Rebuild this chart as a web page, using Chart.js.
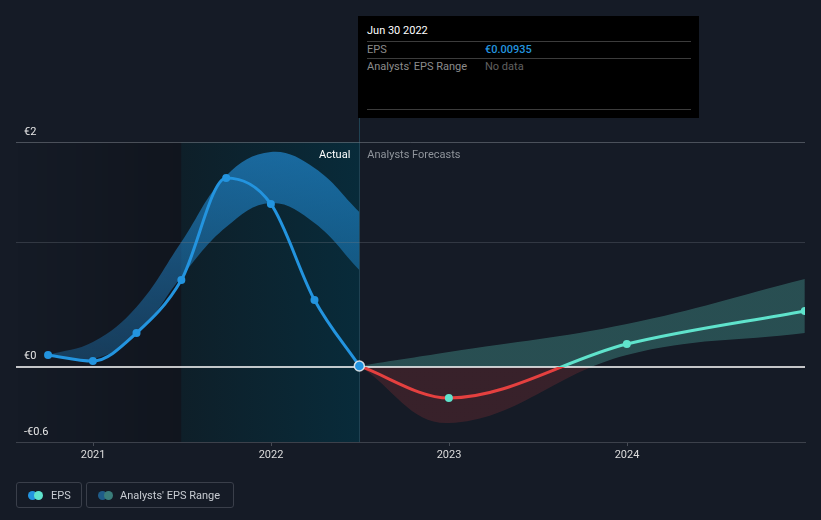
<!DOCTYPE html>
<html>
<head>
<meta charset="utf-8">
<script src="https://cdn.jsdelivr.net/npm/chart.js@4"></script>
<style>
  html,body{margin:0;padding:0;}
  body{width:821px;height:520px;overflow:hidden;position:relative;background:#151b26;font-family:Roboto,"Noto Sans",sans-serif;}
  #c{position:absolute;left:0;top:0;}
  .tip{position:absolute;left:358px;top:16px;width:341px;height:102px;background:#000;font-size:11px;}
  .tip .t{position:absolute;left:9px;top:8px;color:#fff;}
  .tip .hr{position:absolute;left:9px;width:324px;height:1px;background:#3c3c3c;}
  .tip .k{position:absolute;left:9px;color:#8c8c8c;}
  .tip .v{position:absolute;left:127px;}
  .lg{position:absolute;top:482px;height:26px;border:1px solid #3a3f4a;border-radius:3px;box-sizing:border-box;font-size:11px;color:#c8ccd2;}
  .lg .d{position:absolute;top:8px;width:9px;height:9px;border-radius:50%;}
  .lg .s{position:absolute;top:6px;}
</style>
</head>
<body>
<canvas id="c" width="821" height="520"></canvas>
<div class="tip">
  <div class="t">Jun 30 2022</div>
  <div class="hr" style="top:25px"></div>
  <div class="k" style="top:27px">EPS</div>
  <div class="v" style="top:27px;color:#2394df;font-weight:500">€0.00935</div>
  <div class="hr" style="top:42px"></div>
  <div class="k" style="top:44px">Analysts' EPS Range</div>
  <div class="v" style="top:44px;color:#606060">No data</div>
  <div class="hr" style="top:93px"></div>
</div>
<div class="lg" style="left:16px;width:66px;">
  <div class="d" style="left:11px;background:#2394df"></div>
  <div class="d" style="left:17px;background:#5fe3cc"></div>
  <div class="s" style="left:34px">EPS</div>
</div>
<div class="lg" style="left:86px;width:148px;">
  <div class="d" style="left:11px;background:#1f5c88"></div>
  <div class="d" style="left:17px;background:#3a7d7a"></div>
  <div class="s" style="left:33px">Analysts' EPS Range</div>
</div>
<script>
// ---- data (x = decimal year) ----
const pastDates    = [2020.747, 2020.999, 2021.244, 2021.496, 2021.748, 2021.999, 2022.244, 2022.496];
const pastEps      = [0.107, 0.053, 0.302, 0.773, 1.68, 1.449, 0.596, 0.00935];
const pastHigh     = [0.107, 0.222, 0.533, 1.111, 1.70, 1.911, 1.769, 1.378];
const pastLow      = [0.107, 0.071, 0.284, 0.800, 1.244, 1.458, 1.280, 0.862];
const forecastDates= [2022.496, 2022.999, 2023.999, 2024.999];
const forecastEps  = [0.00935, -0.276, 0.204, 0.498];
const forecastHigh = [0.00935, 0.133, 0.382, 0.782];
const forecastLow  = [0.00935, -0.498, 0.107, 0.302];
const xTicks = [2021, 2022, 2023, 2024];
const yLabels = [{v:2, t:'€2'}, {v:0, t:'€0'}, {v:-0.6667, t:'-€0.6'}];
const gridValues = [2, 1.111];
const actualStart = 2021.496;
const dividerX = 2022.496;
const X_MIN = 2020.567, X_MAX = 2025.0, Y_MIN = -0.6667, Y_MAX = 2.0;

const pts = (xs, ys) => xs.map((x, i) => ({x, y: ys[i]}));

const BLUE = '#2394df', TEAL = '#5fe3cc', RED = '#e5403f';

function zeroSplit(ctx, above, below) {
  const chart = ctx.chart; const ca = chart.chartArea;
  if (!ca) return above;
  const z = chart.scales.y.getPixelForValue(0);
  const s = Math.min(1, Math.max(0, (z - ca.top) / (ca.bottom - ca.top)));
  const g = chart.ctx.createLinearGradient(0, ca.top, 0, ca.bottom);
  g.addColorStop(0, above); g.addColorStop(s, above);
  g.addColorStop(s, below); g.addColorStop(1, below);
  return g;
}
function pastBandFill(ctx) {
  const chart = ctx.chart; const ca = chart.chartArea;
  if (!ca) return 'rgba(35,150,230,0.45)';
  const z = chart.scales.y.getPixelForValue(0);
  const g = chart.ctx.createLinearGradient(0, ca.top, 0, z);
  g.addColorStop(0, 'rgba(35,150,230,0.62)');
  g.addColorStop(1, 'rgba(35,150,230,0.28)');
  return g;
}

let gridDone = false;
const deco = {
  id: 'deco',
  beforeDatasetsDraw(chart) {
    const {ctx, chartArea: {left, right, top, bottom}, scales: {x, y}} = chart;
    const xa = x.getPixelForValue(actualStart), xb = x.getPixelForValue(dividerX);
    ctx.save();
    let g = ctx.createLinearGradient(left, 0, xa, 0);
    g.addColorStop(0, 'rgba(0,0,0,0)'); g.addColorStop(1, 'rgba(0,0,0,0.2)');
    ctx.fillStyle = g; ctx.fillRect(left, top, xa - left, bottom - top);
    g = ctx.createLinearGradient(xa, 0, xb, 0);
    g.addColorStop(0, 'rgb(14,31,41)'); g.addColorStop(1, 'rgb(8,43,58)');
    ctx.fillStyle = g; ctx.fillRect(xa, top, xb - xa, bottom - top);
    ctx.strokeStyle = 'rgb(32,66,82)'; ctx.lineWidth = 1;
    ctx.beginPath(); ctx.moveTo(Math.round(xb) + 0.5, 117); ctx.lineTo(Math.round(xb) + 0.5, bottom); ctx.stroke();
    ctx.restore();
    gridDone = false;
  },
  beforeDatasetDraw(chart, args) {
    if (gridDone || args.meta.order !== 0) return;
    gridDone = true;
    const {ctx, chartArea: {left, right}, scales: {y}} = chart;
    ctx.save();
    gridValues.forEach((v, i) => {
      const p = Math.round(y.getPixelForValue(v)) + 0.5;
      ctx.strokeStyle = i === 0 ? 'rgba(120,125,135,0.55)' : 'rgba(120,125,135,0.3)';
      ctx.lineWidth = 1;
      ctx.beginPath(); ctx.moveTo(left, p); ctx.lineTo(right, p); ctx.stroke();
    });
    const z = y.getPixelForValue(0);
    ctx.strokeStyle = '#ffffff'; ctx.lineWidth = 1.5;
    ctx.beginPath(); ctx.moveTo(left, z); ctx.lineTo(right, z); ctx.stroke();
    ctx.restore();
  },
  afterDraw(chart) {
    const {ctx, chartArea: {left}, scales: {x, y}} = chart;
    ctx.save();
    ctx.font = '11px Roboto';
    ctx.textBaseline = 'alphabetic';
    ctx.fillStyle = '#e6e6e6';
    ctx.textAlign = 'left';
    yLabels.forEach(l => { ctx.fillText(l.t, left + 8, y.getPixelForValue(l.v) - 7.5); });
    const xb = x.getPixelForValue(dividerX);
    ctx.textAlign = 'right'; ctx.fillStyle = '#ffffff';
    ctx.fillText('Actual', xb - 9, 158);
    ctx.textAlign = 'left'; ctx.fillStyle = '#8f949b';
    ctx.fillText('Analysts Forecasts', xb + 8, 158);
    ctx.restore();
  }
};

Chart.defaults.font.family = 'Roboto';
Chart.defaults.font.size = 11;

new Chart(document.getElementById('c'), {
  type: 'line',
  data: {
    datasets: [
      { label: 'EPS', data: pts(pastDates, pastEps), order: 0,
        borderColor: BLUE, borderWidth: 3, cubicInterpolationMode: 'monotone', fill: false,
        pointRadius: pastDates.map((d, i) => i === pastDates.length - 1 ? 5 : 4),
        pointBackgroundColor: BLUE,
        pointBorderColor: pastDates.map((d, i) => i === pastDates.length - 1 ? 'rgba(230,235,240,0.9)' : BLUE),
        pointBorderWidth: pastDates.map((d, i) => i === pastDates.length - 1 ? 1.5 : 0) },
      { label: 'EPS forecast', data: pts(forecastDates, forecastEps), order: 0,
        borderColor: ctx => zeroSplit(ctx, TEAL, RED), borderWidth: 3, cubicInterpolationMode: 'monotone', fill: false,
        pointRadius: forecastDates.map((d, i) => i === 0 ? 0 : 4),
        pointBackgroundColor: TEAL, pointBorderWidth: 0 },
      { label: 'pastHigh', data: pts(pastDates, pastHigh), order: 1,
        borderWidth: 0, pointRadius: 0, tension: 0.4,
        fill: '+1', backgroundColor: pastBandFill },
      { label: 'pastLow', data: pts(pastDates, pastLow), order: 1,
        borderWidth: 0, pointRadius: 0, tension: 0.4, fill: false },
      { label: 'fcHigh', data: pts(forecastDates, forecastHigh), order: 1,
        borderWidth: 0, pointRadius: 0, tension: 0.4,
        fill: '+1', backgroundColor: ctx => zeroSplit(ctx, 'rgba(88,200,185,0.3)', 'rgba(230,65,65,0.17)') },
      { label: 'fcLow', data: pts(forecastDates, forecastLow), order: 1,
        borderWidth: 0, pointRadius: 0, tension: 0.4, fill: false }
    ]
  },
  options: {
    responsive: false, animation: false, devicePixelRatio: 1,
    layout: { padding: { left: 16, right: 16, top: 142, bottom: 58 } },
    plugins: { legend: { display: false }, tooltip: { enabled: false } },
    events: [],
    scales: {
      x: { type: 'linear', min: X_MIN, max: X_MAX,
        afterFit: s => { s.height = 20; },
        afterBuildTicks: s => { s.ticks = xTicks.map(v => ({value: v})); },
        ticks: { color: '#dcdcdc', padding: 3, maxRotation: 0, callback: v => String(v) },
        grid: { drawOnChartArea: false, drawTicks: true, tickLength: 4, color: 'rgb(70,75,85)' },
        border: { display: true, color: 'rgb(60,65,75)' } },
      y: { type: 'linear', min: Y_MIN, max: Y_MAX, display: false }
    }
  },
  plugins: [deco]
});
</script>
</body>
</html>
